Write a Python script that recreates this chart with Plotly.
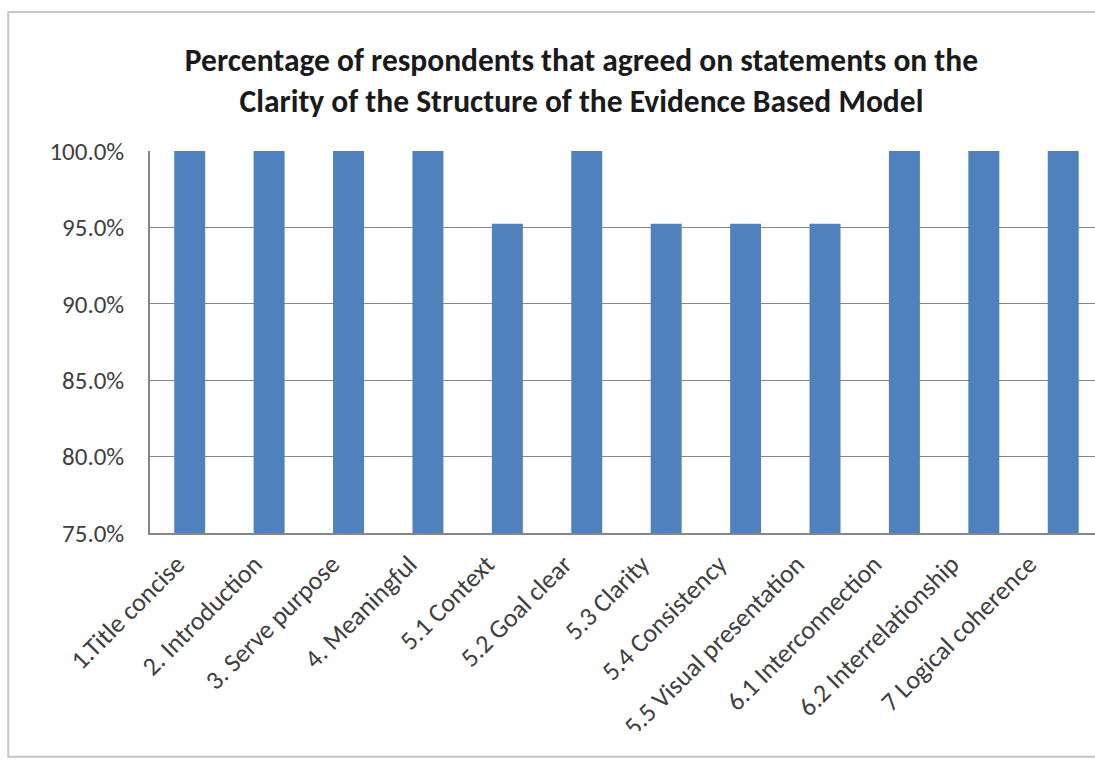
import plotly.graph_objects as go

categories = ["1.Title concise", "2. Introduction", "3. Serve purpose", "4. Meaningful",
              "5.1 Context", "5.2 Goal clear", "5.3 Clarity", "5.4 Consistency",
              "5.5 Visual presentation", "6.1 Interconnection", "6.2 Interrelationship",
              "7 Logical coherence"]
values = [1.0, 1.0, 1.0, 1.0, 0.9524, 1.0, 0.9524, 0.9524, 0.9524, 1.0, 1.0, 1.0]
y_ticks = [0.75, 0.80, 0.85, 0.90, 0.95, 1.00]

FONT = "Carlito, Lato, 'Open Sans', sans-serif"
idx = list(range(len(categories)))

fig = go.Figure()
fig.add_trace(go.Bar(x=idx, y=values, marker_color="#4F81BD",
                     marker_line_width=0, xaxis="x"))
# invisible companion trace carrying the category labels on the label axis
fig.add_trace(go.Scatter(x=idx, y=values, mode="markers", marker=dict(opacity=0),
                         hoverinfo="skip", xaxis="x2", showlegend=False))

fig.update_layout(
    width=1095, height=764,
    margin=dict(l=150, r=0, t=151, b=231),
    paper_bgcolor="white", plot_bgcolor="white",
    bargap=0.61,
    showlegend=False,
    font=dict(family=FONT, color="#404040"),
    title=dict(
        text="<b>Percentage of respondents that agreed on statements on the<br>Clarity of the Structure of the Evidence Based Model</b>",
        x=0.531, xanchor="center", y=0.907, yanchor="middle",
        font=dict(family=FONT, size=31.5, color="#1a1a1a"),
    ),
    xaxis=dict(range=[-0.5, 11.4], showticklabels=False, ticks="",
               showline=True, linecolor="#868686", linewidth=1.5,
               showgrid=False, zeroline=False),
    xaxis2=dict(overlaying="x", anchor="y", side="bottom",
                range=[-0.349, 11.853], tickvals=idx, ticktext=categories,
                tickangle=-45, tickfont=dict(size=26, color="#404040"),
                ticks="", showline=False, showgrid=False, zeroline=False,
                ticklabelstandoff=10),
    yaxis=dict(range=[0.75, 1.0], tickvals=y_ticks, tickformat=".1%",
               tickfont=dict(size=25, color="#404040"),
               showgrid=True, gridcolor="#868686", gridwidth=1,
               showline=True, linecolor="#868686", linewidth=1.5, ticks="",
               ticklabelstandoff=19, zeroline=False),
)

# bottom strip of the chart area, which clips the longest label as in the original
fig.add_shape(type="rect", xref="paper", yref="paper",
              x0=-0.14, x1=1.1, y0=-0.578, y1=-0.518,
              line=dict(width=0), fillcolor="white", layer="above")

# chart frame
fig.add_shape(type="rect", xref="paper", yref="paper",
              x0=-0.150, x1=1.1, y0=-0.586, y1=1.364,
              line=dict(color="#c8c8c8", width=2), layer="below")

fig.write_html("out.html")
